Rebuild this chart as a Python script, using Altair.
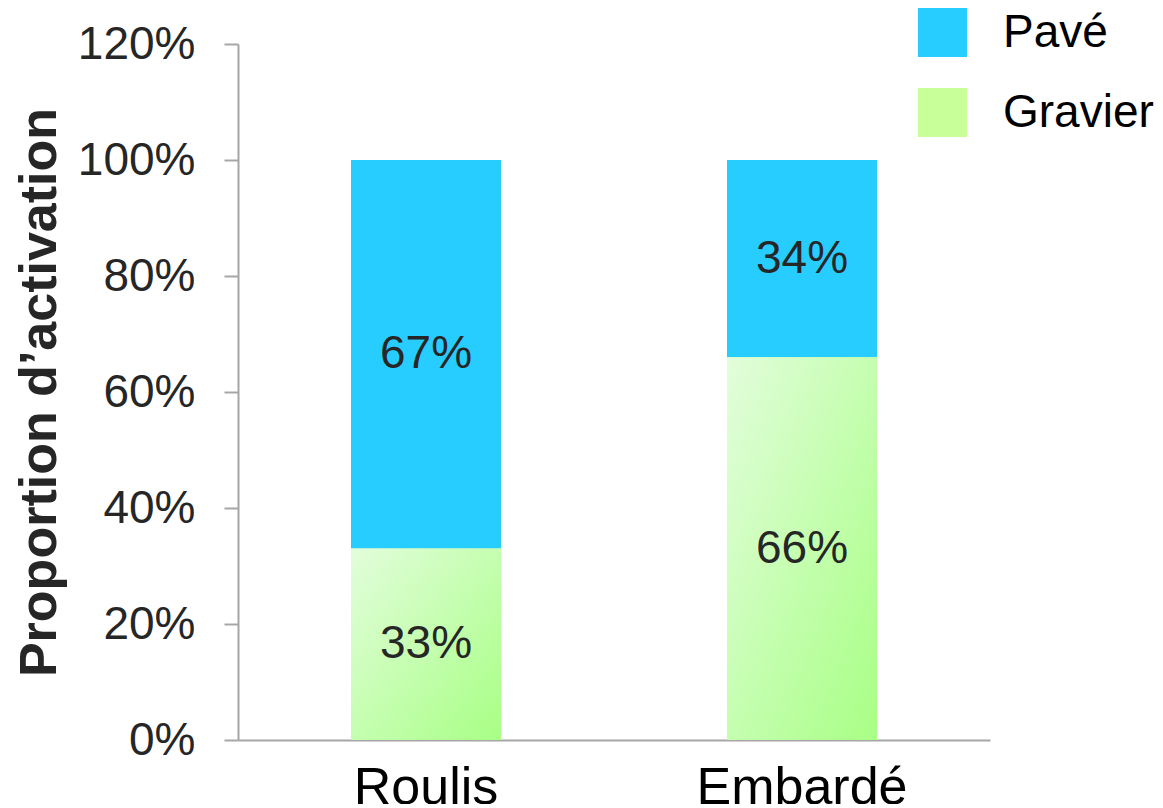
import altair as alt
import pandas as pd

categories = ["Roulis", "Embardé"]
gravier = [33, 66]
pave = [67, 34]
series = ["Pavé", "Gravier"]
series_colors = ["#28CDFF", "#C8FF99"]
y_ticks = [0, 20, 40, 60, 80, 100, 120]

rows = []
for c, g, p in zip(categories, gravier, pave):
    rows.append({"cat": c, "serie": "Gravier", "v": g, "y0": 0, "y1": g})
    rows.append({"cat": c, "serie": "Pavé", "v": p, "y0": g, "y1": g + p})
df = pd.DataFrame(rows)

FONT = "Liberation Sans"

x_enc = alt.X(
    "cat:N",
    sort=categories,
    scale=alt.Scale(paddingInner=0.6, paddingOuter=0.3),
    axis=alt.Axis(
        title=None, labelAngle=0, labelFontSize=52, labelColor="#000000",
        labelFont=FONT, ticks=False, tickSize=0, labelPadding=22,
        labelLimit=0, domainColor="#A6A6A6", domainWidth=2,
    ),
)
y_scale = alt.Scale(domain=[0, 120], nice=False, zero=True)

base = alt.Chart(df)

bars = base.mark_bar(size=150).encode(
    x=x_enc,
    y=alt.Y(
        "y0:Q", scale=y_scale,
        axis=alt.Axis(
            values=y_ticks, labelExpr="datum.value + '%'", grid=False,
            labelFontSize=46, labelColor="#262626", labelFont=FONT,
            tickSize=14, tickColor="#A6A6A6", tickWidth=2, labelPadding=29,
            domainColor="#A6A6A6", domainWidth=2,
            title="Proportion d’activation", titleFont=FONT, titleFontSize=52,
            titleFontWeight="bold", titleColor="#262626", titleAngle=-90,
            titleAlign="center", titleBaseline="alphabetic",
            titleX=-183, titleY=348,
        ),
    ),
    y2="y1:Q",
    color=alt.Color(
        "serie:N",
        scale=alt.Scale(domain=series, range=series_colors),
        legend=alt.Legend(
            title=None, orient="none", legendX=680, legendY=-36,
            symbolType="square", symbolSize=2401, symbolStrokeWidth=0,
            symbolOpacity=1, labelFontSize=46, labelFont=FONT,
            labelColor="#000000", labelOffset=36, rowPadding=31,
            labelLimit=0,
        ),
    ),
)

grad = alt.Gradient(
    gradient="linear",
    stops=[alt.GradientStop(color="#E2FDDB", offset=0),
           alt.GradientStop(color="#A8FF85", offset=1)],
    x1=0, y1=0, x2=1, y2=1,
)

gravier_bars = base.transform_filter(alt.datum.serie == "Gravier").mark_bar(
    size=150, fill=grad
).encode(
    x=alt.X("cat:N", sort=categories),
    y=alt.Y("y0:Q", scale=y_scale),
    y2="y1:Q",
)

labels = base.transform_calculate(
    mid="(datum.y0 + datum.y1) / 2", txt="datum.v + '%'"
).mark_text(fontSize=46, font=FONT, color="#262626", baseline="middle").encode(
    x=alt.X("cat:N", sort=categories),
    y=alt.Y("mid:Q", scale=y_scale),
    text="txt:N",
)

chart = alt.layer(bars, gravier_bars, labels).properties(
    width=752, height=696,
    autosize=alt.AutoSizeParams(type="none"),
    padding={"left": 230, "top": 36, "right": 165, "bottom": 64},
).configure_view(stroke=None)

chart.save("out.html", embed_options={"renderer": "svg", "actions": False})
